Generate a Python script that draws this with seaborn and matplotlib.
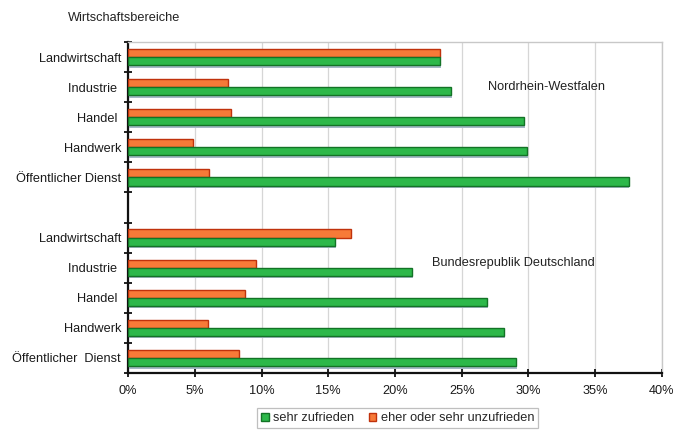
import matplotlib
matplotlib.use("Agg")
import matplotlib.pyplot as plt
import matplotlib.patheffects as pe
from matplotlib.patches import Patch
from matplotlib.ticker import FixedLocator, PercentFormatter
import numpy as np
import pandas as pd
import seaborn as sns

# Sectors, listed top to bottom within each region
sectors = ["Landwirtschaft", "Industrie ", "Handel ", "Handwerk", "Öffentlicher Dienst"]
sectors_brd = ["Landwirtschaft", "Industrie ", "Handel ", "Handwerk", "Öffentlicher  Dienst"]

# Share of employees (%) per sector
nrw_zufrieden = [23.4, 24.2, 29.7, 29.9, 37.5]
nrw_unzufrieden = [23.4, 7.5, 7.7, 4.9, 6.1]
brd_zufrieden = [15.5, 21.3, 26.9, 28.2, 29.1]
brd_unzufrieden = [16.7, 9.6, 8.8, 6.0, 8.3]

label_zufrieden = "sehr zufrieden"
label_unzufrieden = "eher oder sehr unzufrieden"
x_ticks = [0, 5, 10, 15, 20, 25, 30, 35, 40]

# Build the long table; a blank slot separates the two regions
keys_nrw = [f"NRW {s}" for s in sectors]
keys_brd = [f"BRD {s}" for s in sectors_brd]
order = keys_nrw + ["gap"] + keys_brd
rows = []
for k, z, u in zip(keys_nrw + keys_brd,
                   nrw_zufrieden + brd_zufrieden,
                   nrw_unzufrieden + brd_unzufrieden):
    rows.append({"Bereich": k, "Anteil": u, "Urteil": label_unzufrieden})
    rows.append({"Bereich": k, "Anteil": z, "Urteil": label_zufrieden})
df = pd.DataFrame(rows)

sns.set_theme(style="white")
plt.rcParams["font.family"] = ["Liberation Sans", "DejaVu Sans"]
FS = 9.2

green = "#2db84a"
orange = "#f77a38"
palette = {label_zufrieden: green, label_unzufrieden: orange}
edges = {label_zufrieden: "#137326", label_unzufrieden: "#c0320c"}

fig = plt.figure(figsize=(6.74, 4.30), dpi=100)
fig.patch.set_facecolor("white")
ax = fig.add_axes([0.19, 0.1326, 0.792, 0.7696])

sns.barplot(data=df, y="Bereich", x="Anteil", hue="Urteil", order=order,
            hue_order=[label_unzufrieden, label_zufrieden], palette=palette,
            saturation=1, orient="h", width=0.54, gap=0.0, legend=False,
            ax=ax, zorder=3)

shadow = [pe.SimplePatchShadow(offset=(0.6, -1.8), shadow_rgbFace="#a4b8c6", alpha=1.0),
          pe.Normal()]
for container, lvl in zip(ax.containers, [label_unzufrieden, label_zufrieden]):
    for bar in container:
        bar.set_edgecolor(edges[lvl])
        bar.set_linewidth(1.0)
        if lvl == label_zufrieden:
            bar.set_path_effects(shadow)

ax.set_xlim(0, 40)
ax.set_ylim(len(order) - 0.5, -0.5)
ax.xaxis.set_major_locator(FixedLocator(x_ticks))
ax.xaxis.set_major_formatter(PercentFormatter(decimals=0))
ax.grid(axis="x", color="#d6d6d6", linewidth=0.9, zorder=0)
ax.set_axisbelow(True)

# Category labels at slot centres, tick marks at the slot boundaries
labels = sectors + [""] + sectors_brd
ax.set_yticks(range(len(order)))
ax.set_yticklabels(labels)
ax.yaxis.set_minor_locator(FixedLocator(np.arange(-0.5, len(order), 1.0)))
ax.tick_params(axis="y", which="major", length=0, pad=5, labelsize=FS, colors="#1a1a1a")
ax.tick_params(axis="y", which="minor", left=True, length=6, width=1.3,
               direction="inout", color="#111111")
ax.tick_params(axis="x", which="major", bottom=True, length=6, width=1.3,
               direction="inout", color="#111111", labelsize=FS, pad=6,
               labelcolor="#1a1a1a")

for side in ("left", "bottom"):
    ax.spines[side].set_color("#111111")
    ax.spines[side].set_linewidth(1.6)
for side in ("top", "right"):
    ax.spines[side].set_color("#c8c8c8")
    ax.spines[side].set_linewidth(1.0)

ax.set_xlabel("")
ax.set_ylabel("")

ax.text(27.0, 1, "Nordrhein-Westfalen", fontsize=FS, va="center", ha="left",
        color="#222222")
ax.text(22.8, 6.85, "Bundesrepublik Deutschland", fontsize=FS, va="center",
        ha="left", color="#222222")
fig.text(0.101, 0.958, "Wirtschaftsbereiche", fontsize=FS, ha="left", va="center",
         color="#222222")

handles = [Patch(facecolor=green, edgecolor=edges[label_zufrieden], label=label_zufrieden),
           Patch(facecolor=orange, edgecolor=edges[label_unzufrieden], label=label_unzufrieden)]
leg = fig.legend(handles=handles, loc="lower center", bbox_to_anchor=(0.59, 0.0),
                 ncol=2, fontsize=FS, frameon=True, fancybox=False,
                 handlelength=0.6, handleheight=0.6, handletextpad=0.35,
                 columnspacing=1.1, borderpad=0.3, borderaxespad=0.15,
                 edgecolor="#b0b0b0")
leg.get_frame().set_linewidth(0.9)

fig.savefig("out.png", dpi=100, facecolor="white")
